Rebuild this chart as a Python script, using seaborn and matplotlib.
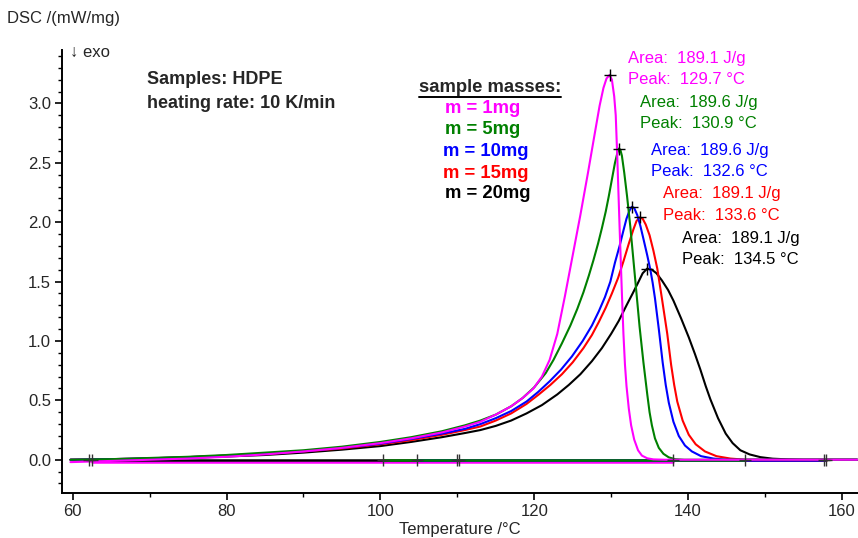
import numpy as np
import pandas as pd
import seaborn as sns
import matplotlib
matplotlib.use("Agg")
import matplotlib.pyplot as plt
from matplotlib.ticker import MultipleLocator, FormatStrFormatter
from matplotlib.lines import Line2D
from matplotlib.transforms import IdentityTransform

# ---------------- data ----------------
samples = ["m = 1mg", "m = 5mg", "m = 10mg", "m = 15mg", "m = 20mg"]
colors = ["#FF00FF", "#008000", "#0000FF", "#FF0000", "#000000"]
areas = ["189.1 J/g", "189.6 J/g", "189.6 J/g", "189.1 J/g", "189.1 J/g"]
peaks = ["129.7 °C", "130.9 °C", "132.6 °C", "133.6 °C", "134.5 °C"]

T_1mg = [59.7, 65, 70, 75, 80, 85, 90, 95, 100, 104, 108, 111, 113, 115, 117, 118.5,
         119.9, 121.0, 122.0, 123.0, 124.0, 125.0, 126.0, 127.0, 127.8, 128.5, 129.0,
         129.4, 129.8, 130.1, 130.4, 130.6, 130.8, 131.1, 131.4, 131.6, 131.8, 132.0,
         132.3, 132.6, 133.0, 133.5, 134.0, 134.7, 135.5, 137, 162]
v_1mg = [-0.02, -0.01, 0.0, 0.01, 0.025, 0.045, 0.07, 0.10, 0.14, 0.18, 0.23, 0.28,
         0.32, 0.38, 0.45, 0.52, 0.60, 0.70, 0.84, 1.06, 1.38, 1.72, 2.06, 2.42, 2.72,
         2.98, 3.13, 3.21, 3.24, 3.20, 3.06, 2.90, 2.55, 1.96, 1.40, 1.06, 0.80, 0.62,
         0.43, 0.29, 0.17, 0.08, 0.035, 0.012, 0.003, 0.0, 0.0]

T_5mg = [59.7, 65, 70, 75, 80, 85, 90, 95, 100, 104, 108, 111, 113, 115, 117, 118.5,
         120, 121.5, 122.5, 123.6, 124.7, 125.6, 126.4, 127.1, 127.7, 128.3, 128.8, 129.3,
         129.7, 130.1, 130.5, 130.8, 131.0, 131.2, 131.4, 131.7, 132.07, 132.5, 132.9,
         133.3, 133.7, 134.2, 134.7, 135.0, 135.3, 135.7, 136.2, 136.8, 137.5, 138.3,
         139.5, 162]
v_5mg = [0.0, 0.005, 0.015, 0.025, 0.04, 0.06, 0.08, 0.11, 0.15, 0.19, 0.24, 0.29, 0.33,
         0.38, 0.45, 0.52, 0.61, 0.73, 0.84, 0.98, 1.13, 1.27, 1.41, 1.55, 1.68, 1.82,
         1.95, 2.09, 2.22, 2.36, 2.50, 2.58, 2.62, 2.61, 2.56, 2.42, 2.22, 1.96, 1.68,
         1.40, 1.12, 0.82, 0.55, 0.40, 0.29, 0.18, 0.10, 0.05, 0.02, 0.005, 0.0, 0.0]

T_10mg = [59.7, 65, 70, 75, 80, 85, 90, 95, 100, 104, 108, 111, 113, 115, 117, 119,
          120.5, 122, 123.5, 124.9, 126.3, 127.5, 128.4, 129.2, 129.9, 130.5, 131.1,
          131.6, 132.0, 132.4, 132.7, 133.0, 133.4, 133.8, 134.2, 134.7, 135.1, 135.4,
          135.7, 136.2, 136.7, 137.1, 137.5, 138.1, 138.8, 139.6, 140.5, 141.7, 143.3,
          145, 162]
v_10mg = [0.0, 0.005, 0.012, 0.022, 0.035, 0.052, 0.072, 0.10, 0.135, 0.175, 0.22,
          0.26, 0.30, 0.35, 0.41, 0.49, 0.57, 0.66, 0.76, 0.87, 1.00, 1.13, 1.25, 1.37,
          1.50, 1.66, 1.80, 1.93, 2.03, 2.10, 2.13, 2.12, 2.06, 1.97, 1.86, 1.72, 1.60,
          1.49, 1.36, 1.10, 0.82, 0.63, 0.48, 0.32, 0.20, 0.12, 0.07, 0.03, 0.01, 0.0, 0.0]

T_15mg = [59.7, 65, 70, 75, 80, 85, 90, 95, 100, 104, 108, 111, 113, 115, 117, 119,
          120.6, 122.1, 123.6, 125, 126.4, 127.5, 128.4, 129.3, 130.1, 130.9, 131.6,
          132.3, 132.9, 133.3, 133.7, 134.1, 134.5, 135.0, 135.5, 136.0, 136.6, 137.3,
          137.8, 138.2, 138.6, 139.3, 140.1, 141.0, 142.2, 143.7, 145.5, 147.5, 162]
v_15mg = [0.0, 0.005, 0.012, 0.022, 0.035, 0.05, 0.07, 0.095, 0.13, 0.165, 0.21, 0.25,
          0.28, 0.33, 0.39, 0.47, 0.55, 0.63, 0.72, 0.82, 0.94, 1.05, 1.16, 1.28, 1.40,
          1.53, 1.67, 1.82, 1.94, 2.01, 2.04, 2.03, 1.98, 1.89, 1.76, 1.61, 1.36, 1.06,
          0.80, 0.63, 0.49, 0.33, 0.21, 0.13, 0.07, 0.03, 0.01, 0.0, 0.0]

T_20mg = [59.7, 65, 70, 75, 80, 85, 90, 95, 100, 104, 108, 111, 113, 115, 117, 119, 121,
          123, 124.5, 126, 127.5, 128.8, 130.0, 131.0, 132.0, 132.8, 133.5, 134.1, 134.7,
          135.3, 135.9, 136.6, 137.4, 138.1, 139.1, 140.1, 140.9, 141.6, 142.3, 142.9,
          143.9, 144.9, 145.8, 146.8, 148.0, 149.4, 151, 153, 155, 162]
v_20mg = [0.0, 0.003, 0.008, 0.016, 0.027, 0.04, 0.06, 0.085, 0.115, 0.15, 0.19, 0.225,
          0.25, 0.285, 0.33, 0.39, 0.46, 0.55, 0.63, 0.72, 0.83, 0.94, 1.06, 1.17, 1.30,
          1.40, 1.49, 1.57, 1.61, 1.60, 1.57, 1.51, 1.43, 1.34, 1.19, 1.03, 0.89, 0.76,
          0.62, 0.51, 0.35, 0.22, 0.14, 0.08, 0.045, 0.022, 0.009, 0.003, 0.0, 0.0]

# integration baselines (start, end, level) and their limit markers
base_start = [62.5, 100.4, 104.8, 110.0, 62.1]
base_end = [138.0, 147.4, 157.8, 158.0, 157.9]
base_level = [-0.015, 0.0, 0.0, 0.0, 0.0]
limit_T = [62.1, 62.5, 100.4, 104.8, 109.9, 110.2, 138.0, 147.4, 157.7, 158.0]

series_T = [T_1mg, T_5mg, T_10mg, T_15mg, T_20mg]
series_v = [v_1mg, v_5mg, v_10mg, v_15mg, v_20mg]

frames = []
for name, T, v in zip(samples, series_T, series_v):
    frames.append(pd.DataFrame({"T": T, "DSC": v, "sample": name}))
df = pd.concat(frames, ignore_index=True)

base_df = pd.concat([
    pd.DataFrame({"T": [s, e], "DSC": [l, l], "sample": n})
    for n, s, e, l in zip(samples, base_start, base_end, base_level)
], ignore_index=True)

# ---------------- styling ----------------
sns.set_theme(style="white")
plt.rcParams["font.family"] = ["Liberation Sans", "DejaVu Sans"]
plt.rcParams["axes.linewidth"] = 1.4

W, H = 858, 538
fig = plt.figure(figsize=(W / 100, H / 100), dpi=100)
ax = fig.add_axes([62 / W, 45 / H, 796 / W, 443 / H])

palette = dict(zip(samples, colors))
order_draw = ["m = 20mg", "m = 15mg", "m = 10mg", "m = 5mg", "m = 1mg"]

# baselines (green on top)
for n in ["m = 1mg", "m = 20mg", "m = 15mg", "m = 10mg", "m = 5mg"]:
    sub = base_df[base_df["sample"] == n]
    sns.lineplot(data=sub, x="T", y="DSC", color=palette[n], lw=1.8, ax=ax,
                 sort=False, estimator=None, legend=False)

for n in order_draw:
    sub = df[df["sample"] == n]
    sns.lineplot(data=sub, x="T", y="DSC", color=palette[n], lw=1.5, ax=ax,
                 sort=False, estimator=None, legend=False)

# peak markers
for T, v in zip(series_T, series_v):
    i = int(np.argmax(v))
    ax.plot(T[i], v[i], marker="+", color="black", ms=9, mew=1.0, zorder=5)

# baseline limit markers
ax.plot(limit_T, [0.0] * len(limit_T), ls="none", marker="+", color="#333333",
        ms=9, mew=1.0, zorder=5)

ax.set_xlim(58.6, 162.1)
ax.set_ylim(-0.28, 3.45)
ax.xaxis.set_major_locator(MultipleLocator(20))
ax.xaxis.set_minor_locator(MultipleLocator(10))
ax.yaxis.set_major_locator(MultipleLocator(0.5))
ax.yaxis.set_minor_locator(MultipleLocator(0.1))
ax.yaxis.set_major_formatter(FormatStrFormatter("%.1f"))
ax.tick_params(axis="both", which="major", direction="out", length=5, width=1.2,
               labelsize=12, color="black", pad=3, left=True, bottom=True)
ax.tick_params(axis="both", which="minor", direction="out", length=3, width=1.0,
               color="black", left=True, bottom=True)
for s in ["top", "right"]:
    ax.spines[s].set_visible(False)
for s in ["left", "bottom"]:
    ax.spines[s].set_color("black")
ax.set_xlabel("Temperature /°C", fontsize=12, labelpad=2)
ax.set_ylabel("")


def px(x, y):
    return x / W, 1 - y / H


fig.text(*px(7, 18), "DSC /(mW/mg)", fontsize=12, va="center", ha="left")
fig.text(*px(70, 52), "↓ exo", fontsize=12, va="center", ha="left",
         family=["Liberation Sans", "DejaVu Sans"])
fig.text(*px(147, 79), "Samples: HDPE", fontsize=13, fontweight="bold", va="center", ha="left")
fig.text(*px(147, 103), "heating rate: 10 K/min", fontsize=13, fontweight="bold",
         va="center", ha="left")

hdr = fig.text(*px(419, 87), "sample masses:", fontsize=13.3, fontweight="bold",
               va="center", ha="left")
leg_y = [109, 130, 152, 173, 194]
leg_x = [445, 445, 443, 443, 445]
for n, c, x, y in zip(samples, colors, leg_x, leg_y):
    fig.text(*px(x, y), n, fontsize=13.3, fontweight="bold", color=c, va="center", ha="left")

ann_x = [628, 640, 651, 663, 682]
ann_y = [58, 102, 150, 194, 238]
for a, p, c, x, y in zip(areas, peaks, colors, ann_x, ann_y):
    fig.text(*px(x, y), "Area:  " + a, fontsize=12, color=c, va="center", ha="left")
    fig.text(*px(x, y + 21), "Peak:  " + p, fontsize=12, color=c, va="center", ha="left")

fig.canvas.draw()
bb = hdr.get_window_extent()
fig.add_artist(Line2D([bb.x0, bb.x1], [bb.y0 - 1.5, bb.y0 - 1.5], color="black", lw=1.4,
                      transform=IdentityTransform()))

fig.savefig("out.png", dpi=100)
